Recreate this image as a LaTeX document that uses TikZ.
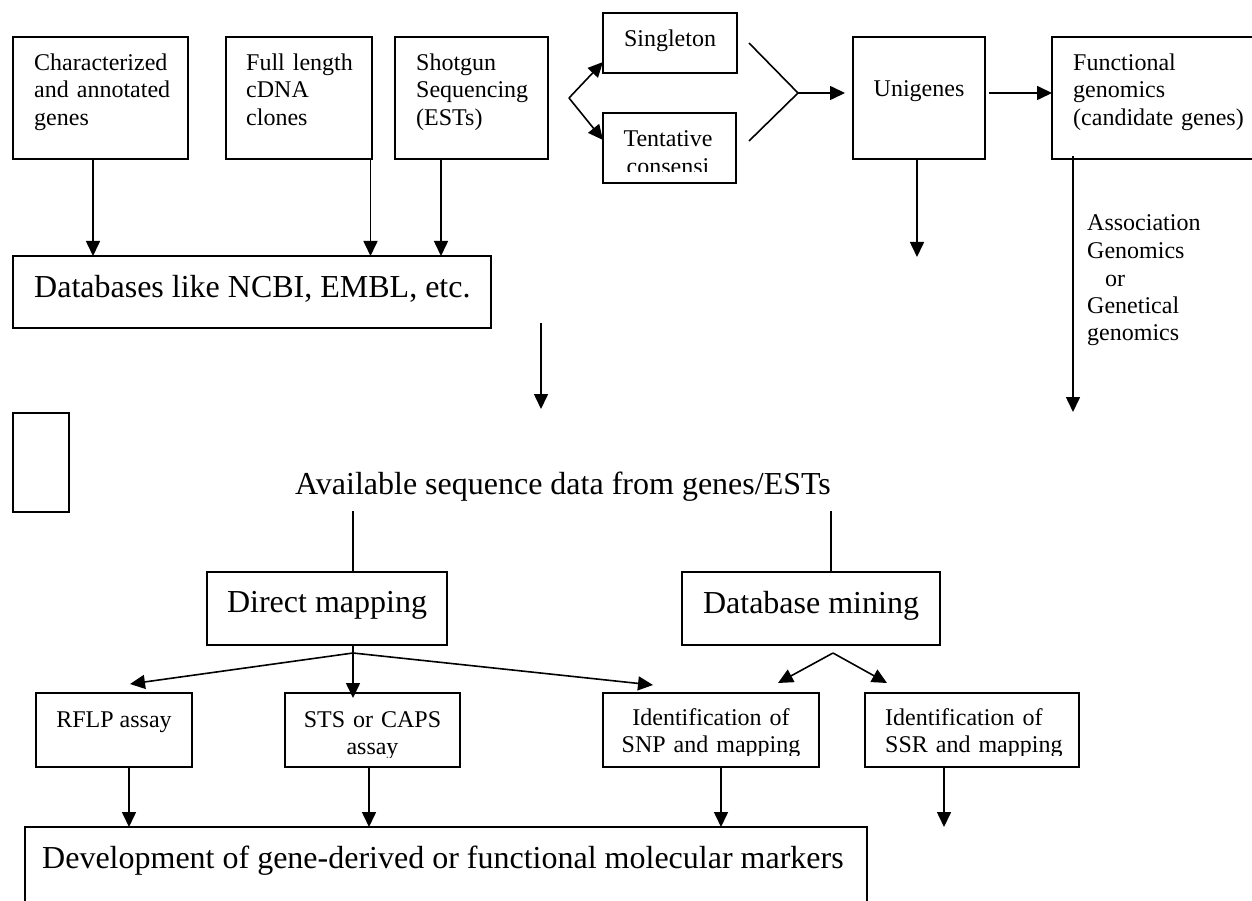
\documentclass[tikz,border=0pt]{standalone}
\usepackage{fontspec}
\setmainfont{Liberation Serif}
\usetikzlibrary{arrows.meta,calc}

\tikzset{
  box/.style={draw, line width=1.8pt, rectangle, inner sep=0pt, outer sep=0pt},
  arr/.style={line width=1.6pt, -{Triangle[length=15pt,width=14pt]}},
  con/.style={line width=1.6pt},
  small/.style={font=\fontsize{24}{27.5}\selectfont, inner sep=0pt},
  large/.style={font=\fontsize{32}{36}\selectfont, inner sep=0pt},
  lefttext/.style={anchor=base west, align=left, text width=#1},
  midtext/.style={anchor=base, align=center, text width=#1},
}

\begin{document}
\begin{tikzpicture}[x=1pt, y=-1pt]
\useasboundingbox (0,0) rectangle (1252,901);
\clip (0,0) rectangle (1252,901);

% ---------- upper row of sources ----------
\node[box, minimum width=175pt, minimum height=122pt, anchor=north west] (A) at (13,37) {};
\node[box, minimum width=146pt, minimum height=122pt, anchor=north west] (B) at (226,37) {};
\node[box, minimum width=153pt, minimum height=122pt, anchor=north west] (C) at (395,37) {};
\node[small, lefttext=150pt] (tA) at (34,70.5) {Characterized\\and annotated\\genes};
\node[small, lefttext=120pt] (tB) at (246,70.5) {Full length\\cDNA\\clones};
\node[small, lefttext=130pt] (tC) at (416,70.5) {Shotgun\\Sequencing\\(ESTs)};

\node[box, minimum width=478pt, minimum height=72pt, anchor=north west] (DB) at (13,256) {};
\node[large, anchor=base west] (tDB) at (34,297) {Databases like NCBI, EMBL, etc.};

\draw[arr] ([xshift=80pt]A.south west) -- ([xshift=80pt]DB.north west);
\draw[arr] ([xshift=-1.5pt]B.south east) -- ([xshift=357.5pt]DB.north west);
\draw[arr] ([xshift=46pt]C.south west) -- ([xshift=428pt]DB.north west);

% ---------- EST clustering ----------
\node[box, minimum width=134pt, minimum height=60pt, anchor=north west] (Sing) at (603,13) {};
\node[box, minimum width=133pt, minimum height=70pt, anchor=north west] (Tent) at (603,113) {};
\node[small, anchor=base] (tSing) at (670,47) {Singleton};
\begin{scope}
  \clip (603,113) rectangle (736,172);
  \node[small, midtext=133pt] (tTent) at (668,147) {Tentative\\consensi};
\end{scope}

\coordinate (fork) at (569,98);
\draw[arr] (fork) -- ([yshift=-19pt]Sing.west);
\draw[arr] (fork) -- ([yshift=8pt]Tent.west);

\node[box, minimum width=132pt, minimum height=122pt, anchor=north west] (Uni) at (853,37) {};
\node[small, anchor=base] (tUni) at (919,97) {Unigenes};

\coordinate (chevA) at (749,43);
\coordinate (merge) at (798,93);
\coordinate (chevB) at (749,141);
\draw[con] (chevA) -- (merge) -- (chevB);
\draw[arr] (merge) -- ($(merge -| Uni.west)+(-8,0)$);

\node[box, minimum width=230pt, minimum height=122pt, anchor=north west] (Func) at (1052,37) {};
\node[small, lefttext=200pt] (tFunc) at (1073,70.5) {Functional\\genomics\\(candidate genes)};
\draw[arr] ($(Uni.east |- merge)+(4,0)$) -- (Func.west |- merge);

\coordinate (uniEnd) at (917,257);
\draw[arr] ([xshift=-2pt]Uni.south) -- (uniEnd);

\coordinate (funcEnd) at (1073,412);
\draw[arr] ($(Func.south west)+(21,-3)$) -- (funcEnd);
\node[small, lefttext=150pt] (tAssoc) at (1087,231) {Association\\Genomics\\\hspace*{18pt}or\\Genetical\\genomics};

% ---------- sequence data ----------
\coordinate (dbA) at (541,323);
\coordinate (dbB) at (541,409);
\draw[arr] (dbA) -- (dbB);

\node[box, minimum width=56pt, minimum height=99pt, anchor=north west] (Small) at (13,413) {};

\node[large, anchor=base] (avail) at (563,494) {Available sequence data from genes/ESTs};
\coordinate (availL) at (353,511);
\coordinate (availR) at (831,511);

\node[box, minimum width=240pt, minimum height=73pt, anchor=north west] (Direct) at (207,572) {};
\node[large, anchor=base] (tDirect) at (327,612) {Direct mapping};
\node[box, minimum width=258pt, minimum height=73pt, anchor=north west] (DBm) at (682,572) {};
\node[large, anchor=base] (tDBm) at (811,613) {Database mining};

\draw[con] (availL) -- ([xshift=26pt]Direct.north);
\draw[con] (availR) -- ([xshift=20pt]DBm.north);

% ---------- marker assays ----------
\node[box, minimum width=156pt, minimum height=74pt, anchor=north west] (RFLP) at (36,693) {};
\node[box, minimum width=175pt, minimum height=74pt, anchor=north west] (STS) at (285,693) {};
\node[box, minimum width=216pt, minimum height=74pt, anchor=north west] (SNP) at (603,693) {};
\node[box, minimum width=214pt, minimum height=74pt, anchor=north west] (SSR) at (865,693) {};

\node[small, anchor=base] (tRFLP) at (114,727) {RFLP assay};
\begin{scope}
  \clip (285,693) rectangle (460,757);
  \node[small, midtext=175pt] (tSTS) at (372.5,727) {STS or CAPS\\assay};
\end{scope}
\begin{scope}
  \clip (603,693) rectangle (819,755);
  \node[small, midtext=216pt] (tSNP) at (711,725) {Identification of\\SNP and mapping};
\end{scope}
\begin{scope}
  \clip (865,693) rectangle (1079,755);
  \node[small, lefttext=190pt] (tSSR) at (885,725) {Identification of\\SSR and mapping};
\end{scope}

\coordinate (dsplit) at (353,653);
\draw[con] ([xshift=26pt]Direct.south) -- (dsplit);
\draw[arr] (dsplit) -- ($(RFLP.north)+(16,-9)$);
\draw[arr] (dsplit) -- ($(STS.north west)+(68,5)$);
\draw[arr] (dsplit) -- ($(SNP.north west)+(50,-8)$);

\coordinate (msplit) at (833,653);
\draw[arr] (msplit) -- ($(SNP.north east)+(-41,-10)$);
\draw[arr] (msplit) -- ($(SSR.north west)+(22,-10)$);

% ---------- markers ----------
\node[box, minimum width=842pt, minimum height=110pt, anchor=north west] (Dev) at (25,827) {};
\node[large, anchor=base west] (tDev) at (42,868) {Development of gene-derived or functional molecular markers};

\draw[arr] ([xshift=93pt]RFLP.south west) -- ([xshift=104pt]Dev.north west);
\draw[arr] ([xshift=84pt]STS.south west) -- ([xshift=344pt]Dev.north west);
\draw[arr] ([xshift=118pt]SNP.south west) -- ([xshift=696pt]Dev.north west);
\coordinate (ssrEnd) at (944,827);
\draw[arr] ([xshift=79pt]SSR.south west) -- (ssrEnd);

\end{tikzpicture}
\end{document}
